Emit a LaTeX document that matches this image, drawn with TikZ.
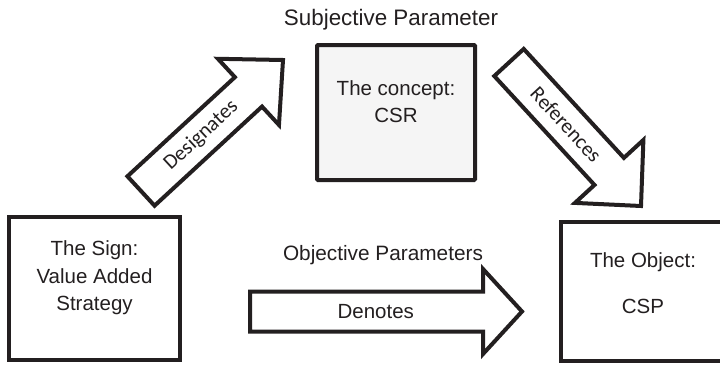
\documentclass[tikz,border=0pt]{standalone}
\usepackage{fontspec}
\setmainfont{Liberation Sans}
\newfontfamily\calfont{Carlito}
\usetikzlibrary{calc}
\definecolor{ink}{HTML}{231F20}
\definecolor{conceptfill}{HTML}{F5F5F5}

% half width of the shaft of every block arrow
\newcommand\shafthw{20pt}
% block arrow from #1 (tail centre) to #2 (tip); #3 head length, #4 head half-width, #5 name prefix
\newcommand\blockarrow[5]{%
  \coordinate (#5-hb) at ($(#2)!#3!(#1)$);
  \draw[blockarr] ($(#1)!\shafthw!90:(#2)$) -- ($(#5-hb)!\shafthw!-90:(#1)$)
    -- ($(#5-hb)!#4!-90:(#1)$) -- (#2) -- ($(#5-hb)!#4!90:(#1)$)
    -- ($(#5-hb)!\shafthw!90:(#1)$) -- ($(#1)!\shafthw!-90:(#2)$) -- cycle;
}

\tikzset{
  box/.style={draw=ink, line width=4pt, inner sep=0pt, outer sep=0pt},
  boxtext/.style={text=ink, align=center, font=\fontsize{20.5pt}{27.5pt}\selectfont},
  toptext/.style={text=ink, font=\fontsize{20.8pt}{25pt}\selectfont},
  blockarr/.style={draw=ink, line width=4pt, fill=white, miter limit=10},
  arrlabel/.style={text=ink, sloped, font=\calfont\fontsize{21pt}{25pt}\selectfont},
  arrlabelsans/.style={text=ink, font=\fontsize{20.5pt}{25pt}\selectfont},
}

\begin{document}
\begin{tikzpicture}[x=1pt, y=-1pt]
\useasboundingbox (0,0) rectangle (720,365);

% the three boxes
\node[box, minimum width=171pt, minimum height=143pt] (sign) at (94.5,288.5) {};
\node[box, fill=conceptfill, rounded corners=1pt, minimum width=158pt, minimum height=135pt] (concept) at (396,112.5) {};
\node[box, minimum width=164pt, minimum height=139pt] (object) at (643,291.5) {};

\node[boxtext] (signtxt) at (94.5,278) {The Sign:\\Value Added\\Strategy};
\node[boxtext] (concepttxt) at (396,101.5) {The concept:\\CSR};
\node[boxtext] (objecttxt) at (643,283) {The Object:\\[18.5pt]CSP};

% parameter captions
\node[toptext, font=\fontsize{22.4pt}{26pt}\selectfont] (subjective) at (391,20) {Subjective Parameter};
\node[toptext] (objective) at (383,255) {Objective Parameters};

% block arrows
\coordinate (des-tail) at (141,191);
\coordinate (des-tip) at (283,60);
\blockarrow{des-tail}{des-tip}{47pt}{45pt}{des}
\path (des-tail) -- node[arrlabel, pos=.56] (deslabel) {Designates} (des-hb);

\coordinate (ref-tail) at (509,62.5);
\coordinate (ref-tip) at (641,206);
\blockarrow{ref-tail}{ref-tip}{47pt}{46.5pt}{ref}
\path (ref-tail) -- node[arrlabel, pos=.57] (reflabel) {References} (ref-hb);

\coordinate (den-tail) at (250,311.5);
\coordinate (den-tip) at (522,311.5);
\blockarrow{den-tail}{den-tip}{39pt}{42.5pt}{den}
\path (den-tail) -- node[arrlabelsans, pos=.54] (denlabel) {Denotes} (den-hb);
\end{tikzpicture}
\end{document}
